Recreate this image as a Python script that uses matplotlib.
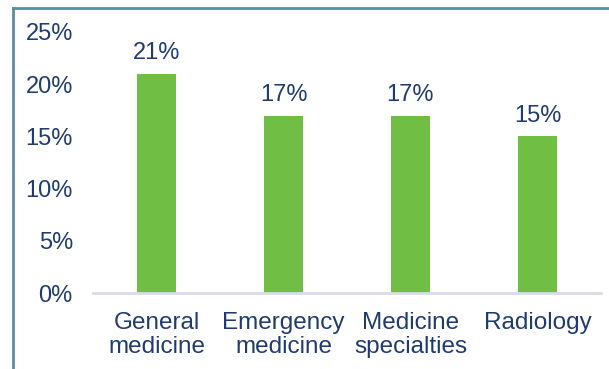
import matplotlib.pyplot as plt
from matplotlib.lines import Line2D

categories = ["General\nmedicine", "Emergency\nmedicine", "Medicine\nspecialties", "Radiology"]
shares = [21, 17, 17, 15]
yticks = [0, 5, 10, 15, 20, 25]

navy = "#1f3b70"
green = "#70bf44"

plt.rcParams['font.family'] = ['Liberation Sans', 'DejaVu Sans']

fig = plt.figure(figsize=(6.09, 3.69), dpi=100)
W, H = 609, 369
ax = fig.add_axes([93 / W, 1 - 293 / H, 508 / W, 261 / H])

x = range(len(categories))
ax.bar(x, shares, width=0.31, color=green, zorder=2)
for xi, v in zip(x, shares):
    ax.annotate(f"{v}%", (xi, v), xytext=(0, 7), textcoords="offset points",
                ha="center", va="bottom", fontsize=17, color=navy)

ax.set_xlim(-0.5, 3.5)
ax.set_ylim(0, 25)
ax.set_yticks(yticks)
ax.set_yticklabels([f"{t}%" for t in yticks], fontsize=17, color=navy)
ax.set_xticks(list(x))
ax.set_xticklabels(categories, fontsize=17.5, color=navy, linespacing=1.1)
ax.tick_params(length=0, axis="y", pad=14.5)
ax.tick_params(length=0, axis="x", pad=14)

for s in ["top", "right", "left"]:
    ax.spines[s].set_visible(False)
ax.spines["bottom"].set_color("#d9dbe6")
ax.spines["bottom"].set_linewidth(2)

# border around the panel
fig.add_artist(Line2D([13 / W, 13 / W], [0, 1 - 8 / H], color="#5b8ea3", lw=2))
fig.add_artist(Line2D([13 / W, 1], [1 - 8 / H, 1 - 8 / H], color="#5b8ea3", lw=2))

fig.savefig("out.png", dpi=100)
